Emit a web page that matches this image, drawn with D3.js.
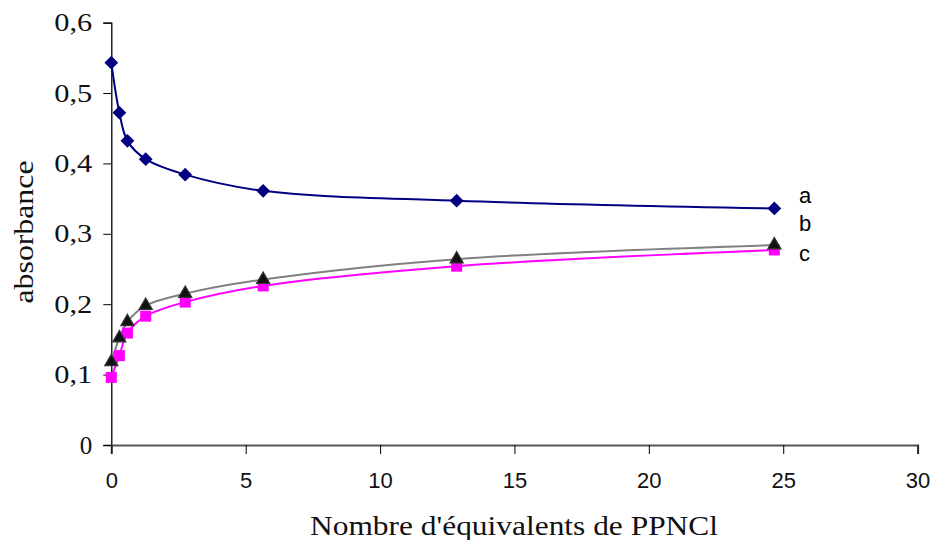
<!DOCTYPE html>
<html><head><meta charset="utf-8">
<script src="https://cdn.jsdelivr.net/npm/d3@7"></script>
<style>body{margin:0;background:#fff}</style>
</head><body>
<svg id="c" width="932" height="540"></svg>
<script>
const xVals = [0, 0.3, 0.6, 1.28, 2.75, 5.65, 12.85, 24.67];
const seriesA = [0.543, 0.472, 0.432, 0.406, 0.384, 0.361, 0.347, 0.336];
const seriesB = [0.118, 0.152, 0.175, 0.198, 0.215, 0.235, 0.264, 0.284];
const seriesC = [0.096, 0.127, 0.159, 0.183, 0.203, 0.226, 0.254, 0.277];
const seriesNames = ["a", "b", "c"];
const xTicks = [0, 5, 10, 15, 20, 25, 30];
const yTicks = [0, 0.1, 0.2, 0.3, 0.4, 0.5, 0.6];

const svg = d3.select("#c");
const x = d3.scaleLinear().domain([0, 30]).range([111.3, 917.6]);
const y = d3.scaleLinear().domain([0, 0.6]).range([445, 22.6]);

// axes
const yAxis = d3.axisLeft(y).tickValues(yTicks).tickSize(8).tickPadding(11)
  .tickFormat(d => d3.format(".1f")(d).replace(".", ",").replace(/^0,0$/, "0"));
const gy = svg.append("g").attr("transform", `translate(${x(0)},0)`).call(yAxis);
gy.selectAll("text").attr("font-family", "'Liberation Serif', serif").attr("font-size", 25)
  .attr("fill", "#111").attr("textLength", d => d === 0 ? null : 38).attr("lengthAdjust", "spacingAndGlyphs");
gy.select(".domain").attr("stroke", "#000").attr("stroke-width", 1.3);
gy.selectAll(".tick line").attr("stroke", "#000");

const xAxis = d3.axisBottom(x).tickValues(xTicks).tickSize(9).tickPadding(18).tickFormat(d3.format("d"));
const gx = svg.append("g").attr("transform", `translate(0,${y(0)})`).call(xAxis);
gx.selectAll("text").attr("font-family", "'Liberation Sans', Arial, sans-serif").attr("font-size", 22).attr("fill", "#111");
gx.select(".domain").attr("stroke", "#555").attr("stroke-width", 2);
gx.selectAll(".tick line").attr("stroke", "#000");

// titles
svg.append("text").attr("x", 514).attr("y", 535).attr("text-anchor", "middle")
  .attr("font-family", "'Liberation Serif', serif").attr("font-size", 28).attr("fill", "#111")
  .attr("textLength", 408).attr("lengthAdjust", "spacingAndGlyphs")
  .text("Nombre d'équivalents de PPNCl");
svg.append("text").attr("transform", "translate(33,232) rotate(-90)").attr("text-anchor", "middle")
  .attr("font-family", "'Liberation Serif', serif").attr("font-size", 28).attr("fill", "#111")
  .attr("textLength", 143).attr("lengthAdjust", "spacingAndGlyphs")
  .text("absorbance");

const line = d3.line().x(d => x(d[0])).y(d => y(d[1])).curve(d3.curveCatmullRom.alpha(0.5));
const series = [
  {vals: seriesA, color: "#000080", sym: d3.symbolSquare, fill: "#000080", size: 95, rot: 45},
  {vals: seriesB, color: "#808080", sym: d3.symbolTriangle, fill: "#111", size: 75, rot: 0},
  {vals: seriesC, color: "#ff00ff", sym: d3.symbolSquare, fill: "#ff00ff", size: 121, rot: 0}
];
[2, 1, 0].forEach(i => {
  const s = series[i];
  const pts = xVals.map((xv, j) => [xv, s.vals[j]]);
  svg.append("path").attr("d", line(pts)).attr("fill", "none").attr("stroke", s.color).attr("stroke-width", 2);
});
[2, 1, 0].forEach(i => {
  const s = series[i];
  const pts = xVals.map((xv, j) => [xv, s.vals[j]]);
  svg.append("g").selectAll("path").data(pts).join("path")
    .attr("transform", d => `translate(${x(d[0])},${y(d[1])}) rotate(${s.rot})`)
    .attr("d", d3.symbol().type(s.sym).size(s.size))
    .attr("fill", s.fill).attr("stroke", i === 1 ? "#333" : "none").attr("stroke-width", 1.2);
});

// series labels
const labelY = [195, 223, 253];
seriesNames.forEach((n, i) => {
  svg.append("text").attr("x", 799).attr("y", labelY[i]).attr("dy", "0.35em")
    .attr("font-family", "'Liberation Sans', Arial, sans-serif").attr("font-size", 22).attr("fill", "#000")
    .text(n);
});
</script>
</body></html>
